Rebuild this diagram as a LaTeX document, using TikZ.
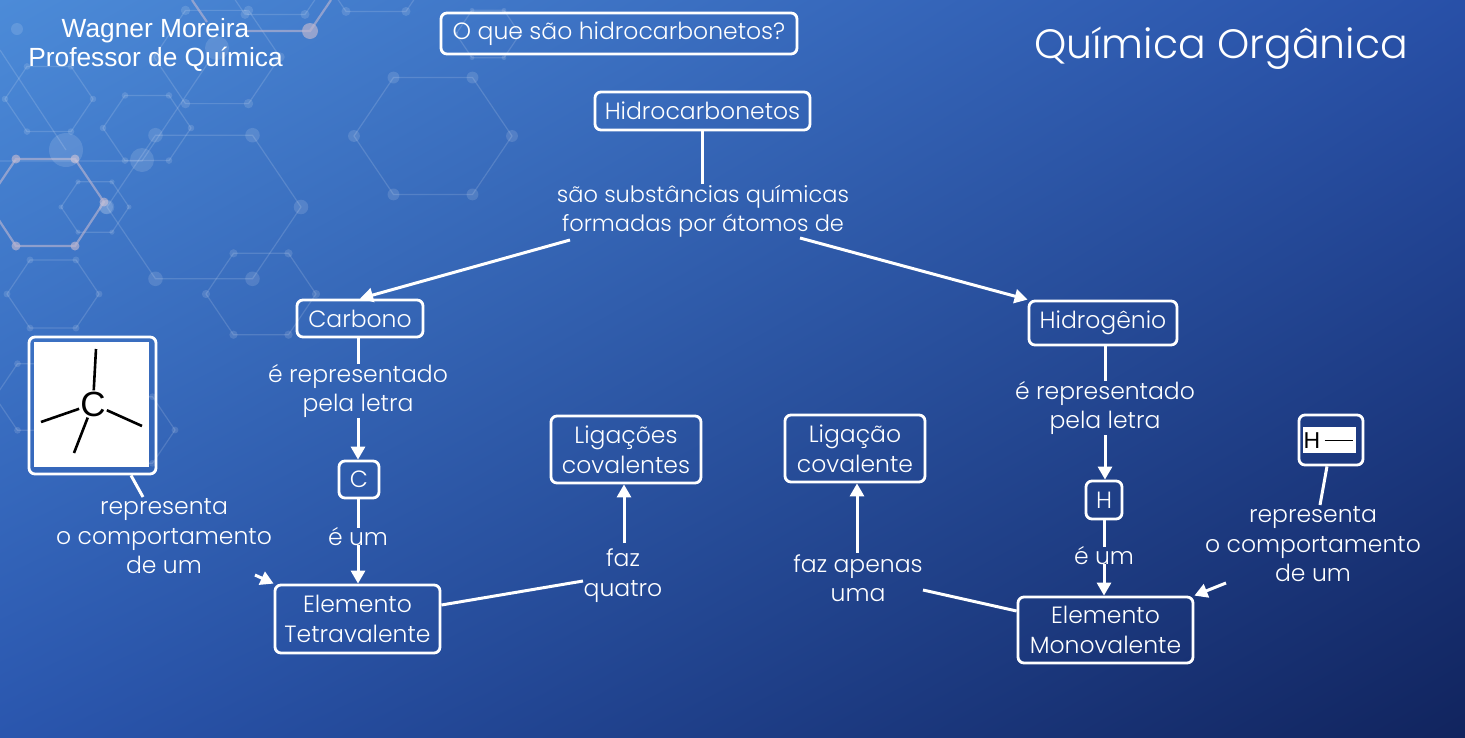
\documentclass[tikz,border=0pt]{standalone}
\usepackage{fontspec}
\setmainfont{Poppins Light}
\newfontfamily\arialfont{Liberation Sans}
\usetikzlibrary{arrows.meta,shadings}
\definecolor{bgtl}{HTML}{4C8BD8}
\definecolor{bgtr}{HTML}{2850A8}
\definecolor{bgbl}{HTML}{2A56AE}
\definecolor{bgbr}{HTML}{11245E}
\definecolor{hexlilac}{HTML}{B9B4D0}
\tikzset{
    conceptbox/.style={draw=white, line width=2.8pt, rounded corners=6pt, text=white, inner sep=0pt, align=center, font=\fontsize{23.5}{29.5}\selectfont},
    linktext/.style={text=white, inner sep=0pt, align=center, font=\fontsize{23.5}{29.5}\selectfont},
    link/.style={draw=white, line width=3pt},
    linkarrow/.style={link, -{Triangle[length=13pt,width=14pt]}},
    hexline/.style={draw=white, draw opacity=.14, line width=1.2pt},
    hexdot/.style={fill=white, fill opacity=.13},
    hexstrong/.style={draw=hexlilac, draw opacity=.65, line width=2.2pt},
    hexstrongdot/.style={fill=hexlilac, fill opacity=.7},
    bond/.style={draw=black, line width=2.6pt}
}
\begin{document}
\begin{tikzpicture}[x=1pt,y=-1pt]
    \useasboundingbox (0,0) rectangle (1465,737);
    \shade[upper left=bgtl, upper right=bgtr, lower left=bgbl, lower right=bgbr] (0,0) rectangle (1465,737);

    \foreach \hx/\hy/\hr in {433/136/79,204/207/97,95/207/34,147/128/44,49/99/44,217/57/63,261/294/55,53/294/46,40/397/45,130/430/45,376/-33/60,488/34/32,275/-30/60}{
        \draw[hexline] ({\hx-\hr},\hy) -- ({\hx-.5*\hr},{\hy-.74*\hr}) -- ({\hx+.5*\hr},{\hy-.74*\hr}) -- ({\hx+\hr},\hy) -- ({\hx+.5*\hr},{\hy+.74*\hr}) -- ({\hx-.5*\hr},{\hy+.74*\hr}) -- cycle;
        \foreach \dx/\dy in {-1/0,-.5/-.74,.5/-.74,1/0,.5/.74,-.5/.74}{
            \fill[hexdot] ({\hx+\dx*\hr},{\hy+\dy*\hr}) circle ({.075*\hr});
        }
    }
    \draw[hexstrong] (-13,202) -- (16,159) -- (75,159) -- (104,202) -- (75,246) -- (16,246) -- cycle;
    \foreach \hx/\hy in {16/159,75/159,104/202,75/246,16/246}{
        \fill[hexstrongdot] (\hx,\hy) circle (4.5);
    }
    \draw[hexstrong] (192,0) -- (207,22);
    \draw[hexstrong] (245,31) -- (310,31) -- (331,0);
    \fill[hexstrongdot] (310,31) circle (8);
    \foreach \hx/\hy/\hr in {217/48/12,66/150/17,142/160/12,17/29/6,106/207/7}{
        \fill[hexdot] (\hx,\hy) circle (\hr);
    }
    \draw[hexline] (0,161) -- (142,161) -- (210,60);
    \draw[hexline] (0,50) -- (66,150);

    \node[conceptbox, minimum width=356pt, minimum height=41pt] (pergunta) at (619,33.5) {\raisebox{-1.5pt}{O que são hidrocarbonetos?}};
    \node[conceptbox, minimum width=215pt, minimum height=38pt] (hidrocarbonetos) at (702.5,111) {\raisebox{-1pt}{Hidrocarbonetos}};
    \node[conceptbox, minimum width=126pt, minimum height=37pt] (carbono) at (360,318.5) {Carbono};
    \node[conceptbox, minimum width=148pt, minimum height=44pt] (hidrogenio) at (1103,323) {\raisebox{-1pt}{Hidrogênio}};
    \node[conceptbox, minimum width=40pt, minimum height=37pt] (letraC) at (359,479.5) {\raisebox{-1pt}{C}};
    \node[conceptbox, minimum width=36pt, minimum height=38pt] (letraH) at (1104,500) {H};
    \node[conceptbox, minimum width=165pt, minimum height=68pt] (tetra) at (357.5,619) {Elemento\\Tetravalente};
    \node[conceptbox, minimum width=175pt, minimum height=66pt] (mono) at (1105.5,630) {Elemento\\Monovalente};
    \node[conceptbox, minimum width=150pt, minimum height=67pt] (ligacoes) at (626,449.5) {Ligações\\covalentes};
    \node[conceptbox, minimum width=140pt, minimum height=67pt] (ligacao) at (855,448.5) {Ligação\\covalente};

    \node[linktext, font=\fontsize{22.5}{29.5}\selectfont] (formadas) at (703,211) {são substâncias químicas\\formadas por átomos de};
    \node[linktext] (repC) at (358,391) {é representado\\pela letra};
    \node[linktext] (repH) at (1105,408) {é representado\\pela letra};
    \node[linktext] (umC) at (358,537) {é um};
    \node[linktext] (umH) at (1104,556) {é um};
    \node[linktext] (compC) at (164,536.5) {representa\\o comportamento\\de um};
    \node[linktext] (compH) at (1313,544.5) {representa\\o comportamento\\de um};
    \node[linktext] (quatro) at (623,575.5) {faz\\quatro};
    \node[linktext] (apenas) at (858,578) {faz apenas\\uma};

    \node[conceptbox, minimum width=127pt, minimum height=137pt] (imagemC) at (92.5,405.5) {};
    \fill[white] (34,342) rectangle (149,467);
    \node[text=black, inner sep=1pt, font=\arialfont\fontsize{35}{35}\selectfont] (atomoC) at (93,404) {C};
    \foreach \bx/\by [count=\i] in {96/349,41/422,142/426,74/453}{
        \coordinate (ligaC\i) at (\bx,\by);
        \draw[bond] (atomoC) -- (ligaC\i);
    }

    \node[conceptbox, minimum width=64pt, minimum height=50pt] (imagemH) at (1331,440) {};
    \fill[white] (1303,427) rectangle (1356,453);
    \node[text=black, inner sep=1pt, font=\arialfont\fontsize{23}{23}\selectfont] (atomoH) at (1312,441) {H};
    \coordinate (ligaH) at (1353,440);
    \draw[draw=black, line width=1pt] (atomoH.east |- ligaH) ++(3,0) -- (ligaH);

    \node[text=white, align=center, inner sep=0pt, font=\arialfont\fontsize{26.3}{29}\selectfont] (autor) at (155.5,45) {Wagner Moreira\\Professor de Química};
    \node[text=white, inner sep=0pt, font=\fontsize{41}{41}\selectfont] (titulo) at (1221,48) {Química Orgânica};

    \draw[link] (hidrocarbonetos.south) -- (formadas.north -| hidrocarbonetos.south);
    \coordinate (saidaC) at (570,240);
    \coordinate (saidaH) at (800,238);
    \draw[linkarrow] (saidaC) -- (carbono.north);
    \draw[linkarrow] (saidaH) -- (hidrogenio.north west);

    \draw[link] (carbono.south -| repC.north) -- (repC.north);
    \draw[linkarrow] (repC.south) -- (letraC.north -| repC.south);
    \draw[link] (letraC.south -| umC.north) -- (umC.north);
    \draw[linkarrow] (umC.center) ++(0,8) coordinate (saidaUmC) -- (tetra.north -| umC.center);

    \draw[link] (hidrogenio.south -| repH.north) -- (repH.north);
    \draw[linkarrow] (repH.south) -- (letraH.north -| repH.south);
    \draw[link] (letraH.south) -- (umH.north);
    \draw[linkarrow] (umH.center) ++(0,8) coordinate (saidaUmH) -- (mono.north -| umH.center);

    \coordinate (fimComp) at (143,497);
    \draw[link] ([xshift=38.5pt]imagemC.south) -- (fimComp);
    \coordinate (saidaComp) at (255,575);
    \draw[linkarrow] (saidaComp) -- (tetra.north west);
    \coordinate (fimCompH) at (1320,505);
    \draw[link] ([xshift=-4pt]imagemH.south) -- (fimCompH);
    \coordinate (saidaCompH) at (1226,583);
    \draw[linkarrow] (saidaCompH) -- (mono.north east);

    \coordinate (fimTetra) at (583,581);
    \draw[link] ([yshift=14pt]tetra.east) -- (fimTetra);
    \coordinate (saidaQuatro) at (624,543);
    \draw[linkarrow] (saidaQuatro) -- (ligacoes.south -| saidaQuatro);
    \coordinate (fimMono) at (923,590);
    \draw[link] ([yshift=19pt]mono.west) -- (fimMono);
    \coordinate (saidaApenas) at (857,553);
    \draw[linkarrow] (saidaApenas) -- (ligacao.south -| saidaApenas);
\end{tikzpicture}
\end{document}
